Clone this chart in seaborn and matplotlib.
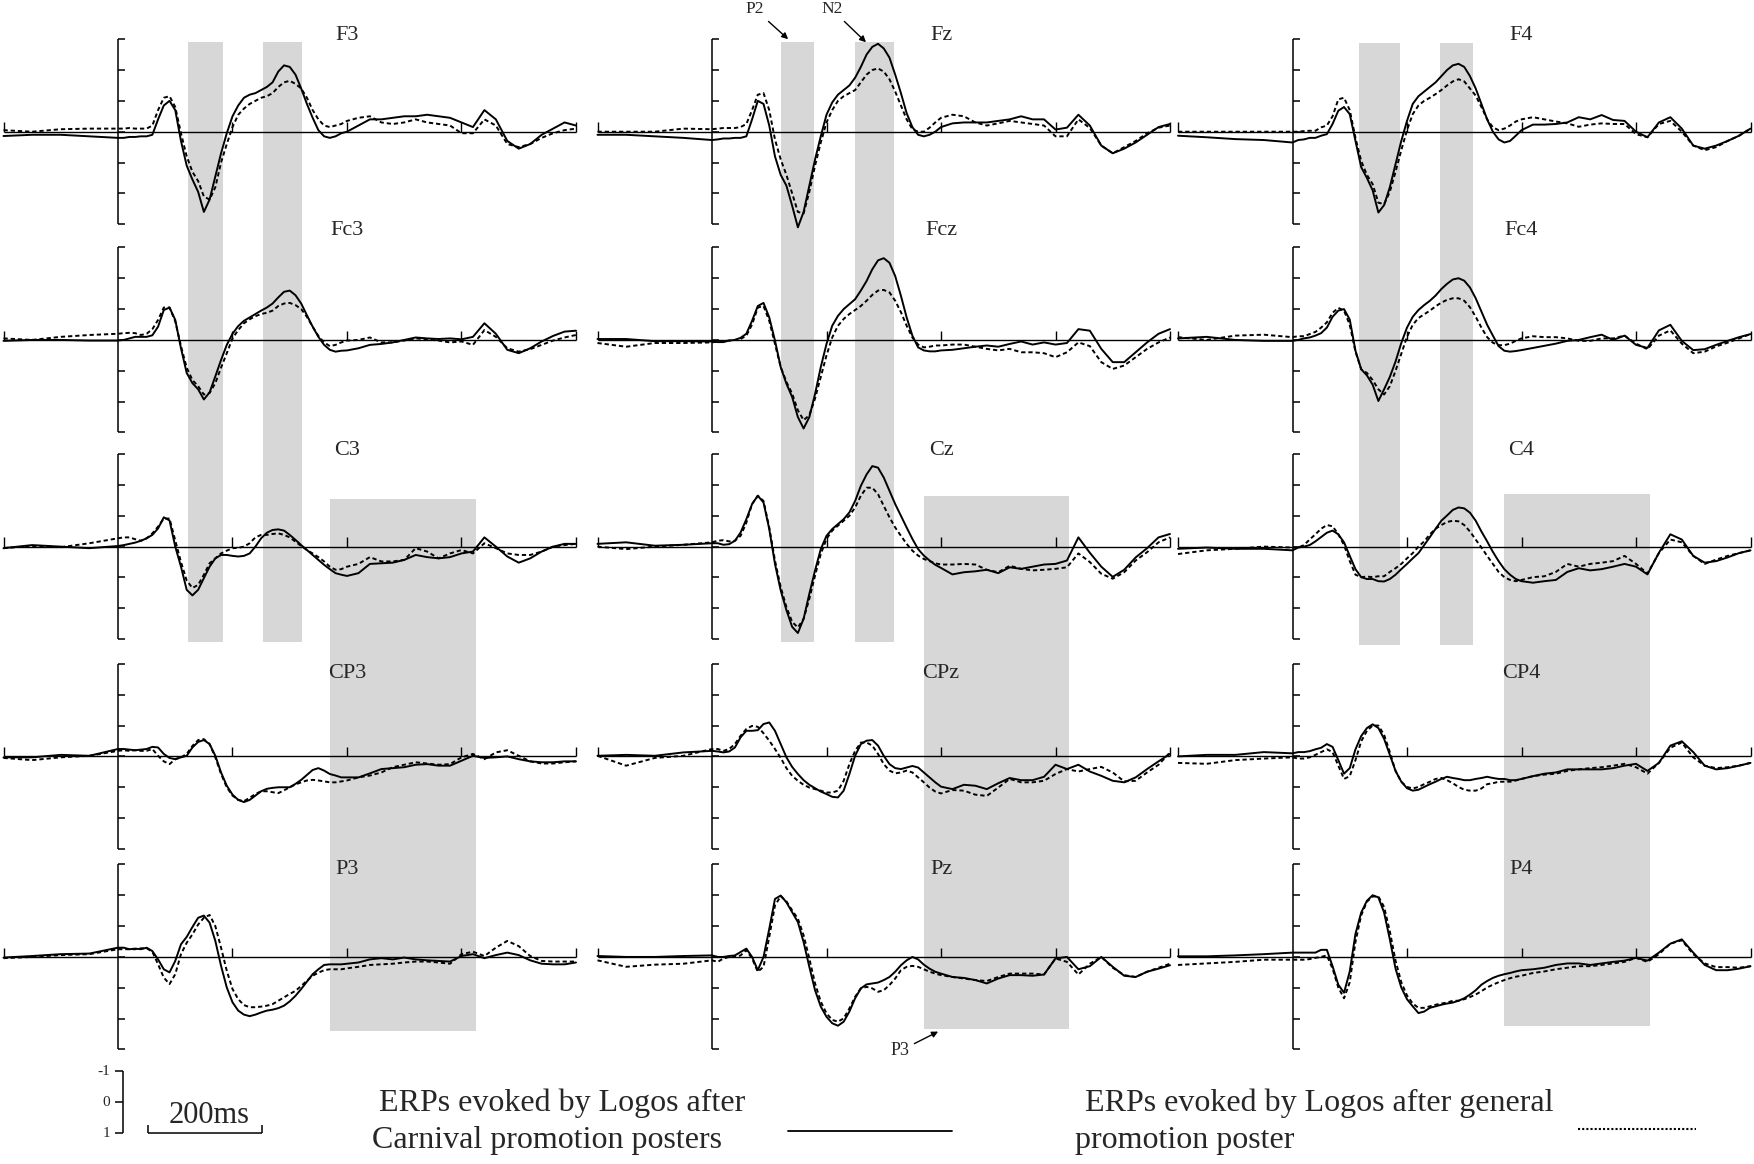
"""
ERP waveforms for 15 electrodes: Logos after Carnival posters (solid)
vs. after general promotion posters (dashed). Negative is plotted up.
"""
import matplotlib
matplotlib.use("Agg")
import matplotlib.pyplot as plt
import numpy as np
import seaborn as sns

# --- sample times (ms) -------------------------------------------------------
TIME_MS = [-200, -150, -100, -50,
           0, 10, 20, 30, 40, 50, 60, 70, 80, 90,
           100, 110, 120, 130, 140, 150, 160, 170, 180, 190,
           200, 210, 220, 230, 240, 250, 260, 270, 280, 290,
           300, 310, 320, 330, 340, 350, 360, 370, 380, 390,
           400, 420, 440, 460, 480, 500, 520, 540, 560, 580,
           600, 620, 640, 660, 680, 700, 720, 740, 760, 780, 800]

# --- amplitudes (uV) ---------------------------------------------------------
F3_SOLID = [0.14, 0.1, 0.1, 0.15,
            0.2, 0.2, 0.17, 0.17, 0.15, 0.15, 0.1, -0.4, -0.85, -1.0,
            -0.7, 0.3, 1.1, 1.55, 1.95, 2.6, 2.2, 1.45, 0.7, 0.05,
            -0.5, -0.85, -1.1, -1.2, -1.25, -1.35, -1.45, -1.6, -1.95, -2.15,
            -2.1, -1.85, -1.4, -0.9, -0.45, -0.05, 0.15, 0.2, 0.15, 0.05,
            0.0, -0.2, -0.4, -0.4, -0.45, -0.5, -0.5, -0.55, -0.5, -0.45,
            -0.3, -0.15, -0.7, -0.4, 0.3, 0.55, 0.4, 0.1, -0.1, -0.3, -0.2]
F3_DASHED = [-0.05, 0.0, -0.08, -0.1,
             -0.1, -0.1, -0.12, -0.1, -0.1, -0.1, -0.2, -0.7, -1.1, -1.15,
             -0.8, 0.05, 0.8, 1.3, 1.6, 2.1, 2.2, 1.8, 1.0, 0.4,
             -0.15, -0.55, -0.75, -0.9, -1.0, -1.1, -1.15, -1.25, -1.45, -1.6,
             -1.65, -1.55, -1.4, -1.1, -0.7, -0.4, -0.2, -0.15, -0.2, -0.25,
             -0.35, -0.45, -0.5, -0.3, -0.25, -0.3, -0.4, -0.3, -0.25, -0.2,
             0.05, 0.05, -0.4, -0.2, 0.4, 0.5, 0.4, 0.2, 0.05, -0.05, -0.1]

FZ_SOLID = [0.1, 0.1, 0.15, 0.2,
            0.27, 0.25, 0.22, 0.22, 0.2, 0.2, 0.15, -0.4, -1.0, -0.9,
            -0.2, 0.8, 1.4, 1.75, 2.4, 3.1, 2.6, 1.75, 0.9, 0.15,
            -0.55, -0.95, -1.2, -1.35, -1.5, -1.75, -2.1, -2.5, -2.75, -2.85,
            -2.7, -2.4, -1.85, -1.25, -0.6, -0.15, 0.1, 0.15, 0.1, 0.0,
            -0.15, -0.27, -0.3, -0.3, -0.3, -0.35, -0.4, -0.5, -0.4, -0.4,
            -0.07, -0.13, -0.55, -0.2, 0.45, 0.7, 0.55, 0.35, 0.1, -0.15, -0.25]
FZ_DASHED = [0.0, 0.0, 0.0, -0.1,
             -0.08, -0.1, -0.12, -0.12, -0.12, -0.15, -0.25, -0.7, -1.2, -1.25,
             -0.7, 0.25, 0.9, 1.4, 2.0, 2.6, 2.65, 1.95, 1.1, 0.35,
             -0.3, -0.7, -1.0, -1.15, -1.25, -1.35, -1.6, -1.85, -2.0, -2.05,
             -1.95, -1.7, -1.3, -0.85, -0.4, -0.08, 0.0, 0.0, -0.13, -0.3,
             -0.45, -0.55, -0.5, -0.3, -0.2, -0.27, -0.35, -0.3, -0.25, -0.2,
             0.15, 0.15, -0.4, -0.12, 0.45, 0.7, 0.5, 0.3, 0.05, -0.13, -0.2]

F4_SOLID = [0.13, 0.18, 0.24, 0.27,
            0.35, 0.27, 0.25, 0.2, 0.2, 0.13, 0.08, -0.25, -0.68, -0.8,
            -0.57, 0.3, 1.15, 1.5, 1.9, 2.62, 2.38, 1.8, 1.05, 0.3,
            -0.35, -0.9, -1.15, -1.3, -1.45, -1.6, -1.8, -2.0, -2.15, -2.2,
            -2.1, -1.8, -1.4, -0.9, -0.4, 0.0, 0.25, 0.35, 0.3, 0.13,
            -0.05, -0.23, -0.23, -0.25, -0.3, -0.47, -0.4, -0.54, -0.38, -0.35,
            0.0, 0.18, -0.3, -0.47, -0.1, 0.45, 0.55, 0.45, 0.3, 0.13, -0.1]
F4_DASHED = [0.0, 0.0, 0.0, 0.0,
             0.0, 0.0, -0.02, -0.03, -0.03, -0.14, -0.2, -0.5, -1.05, -1.1,
             -0.7, 0.2, 0.95, 1.4, 1.7, 2.3, 2.35, 1.95, 1.3, 0.6,
             -0.05, -0.57, -0.85, -1.0, -1.1, -1.22, -1.35, -1.5, -1.63, -1.7,
             -1.63, -1.4, -1.17, -0.8, -0.4, -0.14, -0.05, -0.1, -0.2, -0.33,
             -0.4, -0.47, -0.4, -0.33, -0.27, -0.16, -0.23, -0.27, -0.25, -0.25,
             0.08, 0.18, -0.25, -0.35, 0.0, 0.45, 0.6, 0.5, 0.3, 0.13, -0.1]

FC3_SOLID = [0.03, 0.0, 0.0, 0.02,
             0.02, 0.0, -0.05, -0.1, -0.1, -0.1, -0.15, -0.43, -0.97, -1.05,
             -0.65, 0.27, 1.07, 1.4, 1.6, 1.93, 1.7, 1.18, 0.65, 0.16,
             -0.2, -0.45, -0.62, -0.73, -0.84, -0.95, -1.05, -1.18, -1.38, -1.56,
             -1.6, -1.45, -1.18, -0.8, -0.43, -0.1, 0.16, 0.32, 0.38, 0.35,
             0.34, 0.27, 0.16, 0.13, 0.08, 0.0, -0.08, -0.05, -0.03, -0.05,
             -0.02, -0.1, -0.54, -0.2, 0.32, 0.43, 0.27, 0.05, -0.13, -0.27, -0.3]
FC3_DASHED = [-0.05, 0.0, -0.1, -0.16,
              -0.2, -0.22, -0.23, -0.22, -0.16, -0.2, -0.35, -0.65, -1.05, -1.05,
              -0.6, 0.2, 0.9, 1.3, 1.5, 1.77, 1.72, 1.4, 0.9, 0.43,
              -0.05, -0.32, -0.54, -0.67, -0.77, -0.84, -0.88, -0.95, -1.1, -1.18,
              -1.2, -1.13, -1.0, -0.75, -0.43, -0.13, 0.08, 0.2, 0.16, 0.08,
              0.02, 0.0, -0.08, 0.08, 0.08, 0.02, -0.05, -0.02, 0.02, 0.08,
              0.05, 0.16, -0.32, -0.1, 0.27, 0.38, 0.3, 0.16, 0.02, -0.08, -0.16]

FCZ_SOLID = [-0.03, -0.03, 0.04, 0.04,
             0.05, 0.07, 0.07, 0.02, 0.0, -0.07, -0.2, -0.62, -1.1, -1.2,
             -0.73, 0.02, 0.88, 1.42, 1.85, 2.5, 2.87, 2.5, 1.75, 0.88,
             0.13, -0.46, -0.78, -1.0, -1.16, -1.32, -1.6, -1.91, -2.29, -2.58,
             -2.65, -2.5, -2.07, -1.43, -0.73, -0.14, 0.24, 0.34, 0.37, 0.37,
             0.34, 0.32, 0.27, 0.22, 0.18, 0.22, 0.13, 0.05, 0.15, 0.08,
             0.15, 0.1, -0.35, -0.3, 0.29, 0.72, 0.72, 0.4, 0.08, -0.2, -0.35]
FCZ_DASHED = [0.1, 0.22, 0.1, 0.1,
              0.08, 0.05, 0.04, 0.02, 0.0, -0.03, -0.14, -0.5, -1.05, -1.1,
              -0.62, 0.13, 0.88, 1.36, 1.74, 2.28, 2.6, 2.44, 1.9, 1.2,
              0.5, -0.08, -0.46, -0.68, -0.84, -0.97, -1.1, -1.27, -1.46, -1.6,
              -1.62, -1.54, -1.27, -0.9, -0.46, -0.08, 0.15, 0.24, 0.22, 0.18,
              0.18, 0.15, 0.15, 0.22, 0.29, 0.34, 0.29, 0.4, 0.4, 0.43,
              0.56, 0.4, 0.08, 0.2, 0.72, 0.94, 0.83, 0.56, 0.29, 0.08, -0.08]

FC4_SOLID = [-0.05, -0.1, 0.0, 0.03,
             0.03, 0.0, -0.05, -0.08, -0.14, -0.22, -0.4, -0.75, -0.95, -1.0,
             -0.66, 0.35, 0.95, 1.15, 1.45, 1.98, 1.6, 1.2, 0.7, 0.1,
             -0.4, -0.75, -0.97, -1.13, -1.27, -1.44, -1.65, -1.82, -1.96, -2.0,
             -1.92, -1.7, -1.35, -0.92, -0.49, -0.14, 0.2, 0.35, 0.38, 0.36,
             0.33, 0.26, 0.19, 0.12, 0.03, 0.0, -0.09, -0.17, 0.0, -0.14,
             0.16, 0.26, -0.31, -0.49, 0.03, 0.33, 0.3, 0.16, 0.03, -0.09, -0.19]
FC4_DASHED = [-0.09, 0.0, -0.14, -0.17,
              -0.09, -0.12, -0.12, -0.19, -0.26, -0.4, -0.57, -0.88, -1.04, -0.95,
              -0.49, 0.38, 0.95, 1.07, 1.3, 1.6, 1.77, 1.5, 1.0, 0.45,
              -0.1, -0.49, -0.71, -0.83, -0.95, -1.09, -1.21, -1.3, -1.35, -1.35,
              -1.27, -1.06, -0.75, -0.4, -0.09, 0.09, 0.17, 0.17, 0.12, 0.03,
              -0.05, -0.12, -0.09, -0.09, -0.05, 0.03, 0.03, -0.05, -0.05, -0.14,
              0.12, 0.3, -0.14, -0.31, 0.12, 0.43, 0.38, 0.21, 0.09, -0.05, -0.19]

C3_SOLID = [0.05, -0.05, 0.0, 0.05,
            -0.02, -0.05, -0.09, -0.13, -0.19, -0.27, -0.38, -0.59, -0.95, -0.85,
            0.0, 0.65, 1.4, 1.58, 1.4, 1.02, 0.65, 0.38, 0.27, 0.27,
            0.3, 0.32, 0.3, 0.22, 0.0, -0.27, -0.45, -0.54, -0.56, -0.52,
            -0.38, -0.22, -0.05, 0.11, 0.27, 0.43, 0.59, 0.73, 0.86, 0.91,
            0.95, 0.86, 0.56, 0.54, 0.52, 0.43, 0.27, 0.34, 0.38, 0.34,
            0.22, 0.16, -0.3, 0.0, 0.32, 0.52, 0.38, 0.16, 0.0, -0.09, -0.09]
C3_DASHED = [0.05, -0.02, 0.02, -0.11,
             -0.27, -0.3, -0.3, -0.24, -0.19, -0.27, -0.43, -0.65, -0.91, -0.91,
             -0.2, 0.5, 1.1, 1.34, 1.24, 0.91, 0.54, 0.38, 0.22, 0.13,
             0.05, 0.04, 0.0, -0.11, -0.3, -0.38, -0.38, -0.41, -0.43, -0.38,
             -0.3, -0.16, -0.02, 0.11, 0.22, 0.34, 0.48, 0.65, 0.75, 0.73,
             0.65, 0.56, 0.34, 0.48, 0.48, 0.43, 0.05, 0.16, 0.38, 0.22,
             0.11, 0.22, -0.11, 0.05, 0.22, 0.27, 0.27, 0.16, 0.0, -0.05, -0.09]

CZ_SOLID = [-0.09, -0.14, -0.03, -0.06,
            -0.11, -0.11, -0.06, -0.08, -0.19, -0.46, -0.89, -1.38, -1.65, -1.43,
            -0.57, 0.56, 1.42, 2.06, 2.6, 2.8, 2.34, 1.53, 0.77, 0.08,
            -0.35, -0.57, -0.73, -0.89, -1.11, -1.48, -1.97, -2.34, -2.61, -2.56,
            -2.24, -1.81, -1.38, -1.0, -0.62, -0.25, 0.08, 0.29, 0.45, 0.59,
            0.69, 0.9, 0.83, 0.8, 0.75, 0.86, 0.67, 0.72, 0.65, 0.58,
            0.56, 0.45, -0.3, 0.2, 0.65, 0.98, 0.75, 0.35, 0.05, -0.3, -0.41]
CZ_DASHED = [0.0, 0.08, 0.0, -0.06,
             -0.14, -0.19, -0.21, -0.17, -0.19, -0.35, -0.78, -1.38, -1.65, -1.48,
             -0.62, 0.45, 1.31, 1.96, 2.44, 2.62, 2.34, 1.69, 0.94, 0.24,
             -0.25, -0.52, -0.68, -0.84, -1.0, -1.27, -1.65, -1.91, -1.91, -1.7,
             -1.32, -0.95, -0.62, -0.35, -0.09, 0.13, 0.29, 0.4, 0.47, 0.54,
             0.58, 0.58, 0.56, 0.58, 0.75, 0.83, 0.62, 0.72, 0.77, 0.75,
             0.72, 0.67, 0.22, 0.5, 0.88, 1.04, 0.83, 0.45, 0.18, -0.14, -0.3]

C4_SOLID = [0.07, 0.03, 0.07, 0.07,
            0.12, 0.03, 0.0, -0.05, -0.17, -0.31, -0.45, -0.52, -0.4, -0.14,
            0.3, 0.73, 0.99, 1.05, 1.05, 1.12, 1.13, 1.05, 0.91, 0.73,
            0.56, 0.38, 0.21, -0.05, -0.31, -0.58, -0.84, -1.01, -1.19, -1.27,
            -1.24, -1.1, -0.84, -0.49, -0.17, 0.17, 0.47, 0.73, 0.91, 1.05,
            1.12, 1.17, 1.12, 1.08, 0.82, 0.7, 0.77, 0.73, 0.65, 0.56,
            0.65, 0.9, 0.2, -0.4, -0.23, 0.3, 0.52, 0.47, 0.35, 0.21, 0.12]
C4_DASHED = [0.24, 0.12, 0.07, 0.0,
             0.03, 0.03, -0.05, -0.23, -0.4, -0.58, -0.7, -0.66, -0.4, -0.05,
             0.47, 0.91, 0.99, 0.97, 0.99, 0.96, 0.96, 0.82, 0.7, 0.56,
             0.38, 0.21, 0.0, -0.17, -0.4, -0.58, -0.7, -0.8, -0.84, -0.82,
             -0.7, -0.49, -0.23, 0.03, 0.3, 0.56, 0.82, 0.99, 1.08, 1.12,
             1.08, 0.99, 0.96, 0.82, 0.56, 0.65, 0.56, 0.52, 0.47, 0.3,
             0.56, 0.87, 0.21, -0.23, -0.14, 0.3, 0.56, 0.42, 0.3, 0.21, 0.12]

CP3_SOLID = [0.03, 0.03, -0.05, -0.02,
             -0.24, -0.24, -0.22, -0.2, -0.22, -0.24, -0.31, -0.29, -0.08, 0.05,
             0.09, 0.03, -0.02, -0.29, -0.47, -0.53, -0.4, -0.02, 0.52, 0.95,
             1.24, 1.41, 1.48, 1.41, 1.27, 1.13, 1.05, 1.02, 1.0, 1.0,
             1.0, 0.89, 0.76, 0.6, 0.44, 0.38, 0.46, 0.57, 0.62, 0.68,
             0.68, 0.68, 0.55, 0.41, 0.38, 0.35, 0.27, 0.25, 0.3, 0.3,
             0.14, -0.02, 0.05, 0.03, 0.0, 0.09, 0.16, 0.19, 0.19, 0.16, 0.16]
CP3_DASHED = [0.05, 0.12, 0.03, -0.02,
              -0.18, -0.2, -0.18, -0.2, -0.18, -0.18, -0.24, -0.02, 0.16, 0.25,
              0.09, 0.03, -0.08, -0.34, -0.53, -0.56, -0.4, 0.03, 0.57, 1.0,
              1.27, 1.41, 1.45, 1.34, 1.22, 1.13, 1.13, 1.16, 1.19, 1.1,
              1.0, 0.91, 0.84, 0.78, 0.76, 0.78, 0.81, 0.84, 0.84, 0.81,
              0.78, 0.68, 0.62, 0.52, 0.35, 0.27, 0.19, 0.23, 0.27, 0.25,
              0.03, -0.08, 0.09, -0.13, -0.2, -0.02, 0.16, 0.23, 0.23, 0.19, 0.16]

CPZ_SOLID = [-0.02, -0.05, -0.02, -0.13,
             -0.18, -0.16, -0.13, -0.16, -0.29, -0.62, -0.83, -0.83, -0.85, -1.05,
             -1.1, -0.83, -0.4, 0.03, 0.34, 0.57, 0.77, 0.92, 1.03, 1.14,
             1.22, 1.31, 1.33, 1.11, 0.57, -0.02, -0.4, -0.51, -0.53, -0.35,
             -0.02, 0.25, 0.38, 0.41, 0.36, 0.31, 0.36, 0.52, 0.68, 0.84,
             0.98, 1.06, 0.92, 0.95, 1.06, 0.87, 0.7, 0.77, 0.77, 0.66,
             0.27, 0.41, 0.27, 0.49, 0.63, 0.79, 0.84, 0.68, 0.41, 0.16, -0.08]
CPZ_DASHED = [-0.02, 0.3, 0.05, -0.02,
              -0.24, -0.24, -0.18, -0.24, -0.4, -0.67, -0.89, -0.99, -0.96, -0.75,
              -0.51, -0.24, 0.05, 0.38, 0.63, 0.79, 0.92, 1.01, 1.06, 1.11,
              1.17, 1.17, 1.11, 0.79, 0.25, -0.18, -0.45, -0.45, -0.35, -0.08,
              0.25, 0.46, 0.55, 0.52, 0.46, 0.52, 0.68, 0.84, 1.01, 1.14,
              1.2, 1.09, 1.11, 1.24, 1.28, 1.01, 0.73, 0.84, 0.84, 0.79,
              0.57, 0.41, 0.49, 0.41, 0.34, 0.52, 0.81, 0.79, 0.52, 0.27, -0.13]

CP4_SOLID = [0.0, -0.05, -0.05, -0.14,
             -0.1, -0.14, -0.14, -0.17, -0.23, -0.28, -0.4, -0.31, 0.12, 0.56,
             0.38, -0.23, -0.66, -0.92, -1.04, -0.92, -0.57, -0.05, 0.47, 0.82,
             1.03, 1.11, 1.08, 0.99, 0.9, 0.82, 0.73, 0.66, 0.7, 0.73,
             0.77, 0.77, 0.73, 0.7, 0.66, 0.7, 0.73, 0.73, 0.77, 0.77,
             0.73, 0.64, 0.56, 0.52, 0.42, 0.42, 0.42, 0.42, 0.38, 0.3,
             0.24, 0.47, 0.21, -0.35, -0.49, -0.14, 0.3, 0.42, 0.38, 0.3, 0.21]
CP4_DASHED = [0.21, 0.24, 0.12, 0.07,
              0.03, 0.07, 0.07, 0.03, -0.05, -0.14, -0.23, -0.14, 0.3, 0.73,
              0.64, 0.12, -0.49, -0.83, -1.0, -1.0, -0.7, -0.14, 0.47, 0.82,
              0.99, 1.04, 0.99, 0.9, 0.82, 0.73, 0.7, 0.77, 0.87, 0.99,
              1.08, 1.11, 1.11, 1.04, 0.9, 0.87, 0.82, 0.82, 0.82, 0.78,
              0.73, 0.64, 0.59, 0.56, 0.47, 0.42, 0.38, 0.35, 0.3, 0.24,
              0.35, 0.56, 0.21, -0.28, -0.45, 0.03, 0.3, 0.38, 0.35, 0.3, 0.21]

P3_SOLID = [0.02, -0.03, -0.09, -0.11,
            -0.3, -0.3, -0.25, -0.27, -0.25, -0.3, -0.19, 0.08, 0.4, 0.5,
            0.13, -0.41, -0.65, -0.97, -1.27, -1.34, -1.11, -0.52, 0.29, 0.99,
            1.47, 1.74, 1.87, 1.92, 1.87, 1.8, 1.74, 1.71, 1.66, 1.58,
            1.44, 1.26, 1.04, 0.8, 0.56, 0.4, 0.26, 0.24, 0.24, 0.24,
            0.22, 0.18, 0.08, 0.04, 0.08, 0.02, 0.08, 0.11, 0.13, 0.15,
            -0.03, -0.09, 0.04, -0.06, -0.14, -0.06, 0.11, 0.22, 0.24, 0.24, 0.18]
P3_DASHED = [0.04, 0.0, -0.06, -0.09,
             -0.25, -0.25, -0.25, -0.25, -0.28, -0.28, -0.17, 0.24, 0.67, 0.88,
             0.56, -0.09, -0.46, -0.73, -1.05, -1.27, -1.36, -1.0, -0.3, 0.45,
             1.04, 1.37, 1.56, 1.63, 1.63, 1.61, 1.58, 1.53, 1.42, 1.31,
             1.2, 1.1, 0.94, 0.77, 0.61, 0.51, 0.43, 0.4, 0.4, 0.4,
             0.37, 0.32, 0.26, 0.24, 0.22, 0.18, 0.15, 0.15, 0.18, 0.22,
             -0.09, -0.17, -0.03, -0.3, -0.52, -0.35, -0.03, 0.13, 0.15, 0.15, 0.15]

PZ_SOLID = [-0.03, 0.0, 0.0, -0.03,
            -0.05, 0.0, 0.0, -0.03, -0.05, -0.16, -0.27, 0.0, 0.43, 0.0,
            -0.91, -1.88, -1.99, -1.77, -1.45, -1.13, -0.48, 0.32, 1.08, 1.61,
            1.94, 2.15, 2.23, 2.1, 1.77, 1.34, 1.02, 0.89, 0.86, 0.83,
            0.75, 0.65, 0.48, 0.27, 0.11, 0.0, 0.08, 0.25, 0.38, 0.48,
            0.54, 0.65, 0.68, 0.75, 0.86, 0.7, 0.59, 0.59, 0.61, 0.57,
            0.05, 0.0, 0.4, 0.3, 0.0, 0.32, 0.61, 0.65, 0.48, 0.38, 0.27]
PZ_DASHED = [0.11, 0.32, 0.25, 0.22,
             0.11, 0.16, 0.05, 0.0, 0.0, -0.05, -0.22, 0.05, 0.48, 0.32,
             -0.65, -1.67, -1.97, -1.8, -1.51, -1.24, -0.7, 0.05, 0.86, 1.45,
             1.83, 2.04, 2.1, 1.99, 1.67, 1.29, 1.02, 0.97, 1.02, 1.13,
             1.08, 0.91, 0.7, 0.43, 0.32, 0.29, 0.32, 0.4, 0.48, 0.54,
             0.59, 0.65, 0.7, 0.75, 0.78, 0.65, 0.54, 0.54, 0.54, 0.57,
             0.05, 0.16, 0.57, 0.22, 0.0, 0.35, 0.59, 0.65, 0.48, 0.35, 0.22]

P4_SOLID = [-0.02, -0.02, -0.05, -0.09,
            -0.14, -0.14, -0.14, -0.14, -0.14, -0.23, -0.23, 0.3, 0.9, 1.16,
            0.47, -0.75, -1.44, -1.82, -2.0, -1.93, -1.44, -0.57, 0.38, 0.99,
            1.37, 1.6, 1.82, 1.77, 1.65, 1.6, 1.55, 1.51, 1.48, 1.42,
            1.34, 1.22, 1.08, 0.9, 0.78, 0.68, 0.61, 0.56, 0.52, 0.47,
            0.43, 0.4, 0.35, 0.26, 0.21, 0.21, 0.26, 0.21, 0.16, 0.12,
            0.03, 0.12, -0.14, -0.43, -0.57, -0.14, 0.26, 0.43, 0.43, 0.38, 0.3]
P4_DASHED = [0.26, 0.21, 0.16, 0.09,
             0.09, 0.09, 0.09, 0.07, 0.03, 0.0, -0.05, 0.38, 0.99, 1.34,
             0.82, -0.49, -1.35, -1.79, -1.96, -1.96, -1.62, -0.83, 0.12, 0.82,
             1.25, 1.51, 1.65, 1.65, 1.6, 1.55, 1.51, 1.48, 1.42, 1.42,
             1.37, 1.3, 1.22, 1.11, 0.99, 0.9, 0.82, 0.75, 0.69, 0.64,
             0.61, 0.52, 0.47, 0.4, 0.35, 0.3, 0.3, 0.26, 0.21, 0.16,
             0.03, 0.16, -0.09, -0.43, -0.54, -0.09, 0.21, 0.33, 0.33, 0.35, 0.3]

ELECTRODES = [["F3", "Fc3", "C3", "CP3", "P3"],
              ["Fz", "Fcz", "Cz", "CPz", "Pz"],
              ["F4", "Fc4", "C4", "CP4", "P4"]]
SOLID = [[F3_SOLID, FC3_SOLID, C3_SOLID, CP3_SOLID, P3_SOLID],
         [FZ_SOLID, FCZ_SOLID, CZ_SOLID, CPZ_SOLID, PZ_SOLID],
         [F4_SOLID, FC4_SOLID, C4_SOLID, CP4_SOLID, P4_SOLID]]
DASHED = [[F3_DASHED, FC3_DASHED, C3_DASHED, CP3_DASHED, P3_DASHED],
          [FZ_DASHED, FCZ_DASHED, CZ_DASHED, CPZ_DASHED, PZ_DASHED],
          [F4_DASHED, FC4_DASHED, C4_DASHED, CP4_DASHED, P4_DASHED]]

# shaded analysis windows: (t0, t1, top row, top uV, bottom row, bottom uV)
WINDOWS = [[(123, 183, 0, -2.9, 2, 3.1), (253, 322, 0, -2.9, 2, 3.1), (371, 625, 2, -1.56, 4, 2.39)],
           [(120, 179, 0, -2.9, 2, 3.1), (249, 318, 0, -2.9, 2, 3.1), (370, 624, 2, -1.63, 4, 2.33)],
           [(117, 187, 0, -2.87, 2, 3.18), (257, 316, 0, -2.87, 2, 3.18), (370, 625, 2, -1.71, 4, 2.24)]]

# --- layout ------------------------------------------------------------------
FIG_W_PX, FIG_H_PX = 1754, 1164
PX_PER_MS = 0.5725
PX_PER_UV = 30.85
COL_ZERO_PX = [118, 712, 1292.5]
ROW1_ZERO_PX = 131.7
ROW_OFFSETS = [0, 6.75, 13.45, 20.25, 26.75]
LABEL_DY = [-3.13, -3.55, -3.12, -2.7, -2.84]
SCALE_OFFSET = 31.46
X_MIN, X_MAX = -205, 805
BAND_COLOR = "#d7d7d7"
LW = 1.4

sns.set_style("white")
plt.rcParams["font.family"] = ["Liberation Serif", "DejaVu Serif"]

fig = plt.figure(figsize=(FIG_W_PX / 100, FIG_H_PX / 100), dpi=100)

y_top = -ROW1_ZERO_PX / PX_PER_UV
y_bottom = (FIG_H_PX - ROW1_ZERO_PX) / PX_PER_UV
axes = []
for col in range(3):
    left_px = COL_ZERO_PX[col] + X_MIN * PX_PER_MS
    width_px = (X_MAX - X_MIN) * PX_PER_MS
    ax = fig.add_axes([left_px / FIG_W_PX, 0, width_px / FIG_W_PX, 1])
    ax.set_xlim(X_MIN, X_MAX)
    ax.set_ylim(y_bottom, y_top)  # negative up
    ax.axis("off")
    axes.append(ax)

    for t0, t1, r0, v0, r1, v1 in WINDOWS[col]:
        ax.fill_between([t0, t1], ROW_OFFSETS[r0] + v0, ROW_OFFSETS[r1] + v1,
                        color=BAND_COLOR, lw=0, zorder=0)

    for row in range(5):
        off = ROW_OFFSETS[row]
        solid = np.array(SOLID[col][row])
        dashed = np.array(DASHED[col][row])
        assert len(solid) == len(TIME_MS) and len(dashed) == len(TIME_MS)

        # baseline, amplitude bracket and time ticks
        ax.hlines(off, -200, 800, color="black", lw=1.0, zorder=2)
        ax.vlines(0, off - 3, off + 3, color="black", lw=1.1, zorder=2)
        ax.hlines(off + np.arange(-3, 4), 0, 13, color="black", lw=1.1, zorder=2)
        ax.vlines([-200, 200, 400, 600, 800], off - 0.3, off, color="black", lw=1.0, zorder=2)

        sns.lineplot(x=TIME_MS, y=solid + off, ax=ax, color="black", lw=LW, zorder=4)
        sns.lineplot(x=TIME_MS, y=dashed + off, ax=ax, color="black", lw=LW,
                     linestyle=(0, (2.2, 1.5)), zorder=3)

        ax.text(400, off + LABEL_DY[row], ELECTRODES[col][row], ha="center",
                va="center", fontsize=16)

# component labels
arrow = dict(arrowstyle="-|>", color="black", lw=1.0, mutation_scale=9,
             shrinkA=1, shrinkB=0)
axes[1].annotate("P2", xy=(133, -3.0), xytext=(75, -3.97), ha="center",
                 va="center", fontsize=12.5, arrowprops=arrow)
axes[1].annotate("N2", xy=(269, -2.9), xytext=(209, -3.97), ha="center",
                 va="center", fontsize=12.5, arrowprops=arrow)
axes[1].annotate("P3", xy=(395, ROW_OFFSETS[4] + 2.42), xytext=(329, ROW_OFFSETS[4] + 3.04),
                 ha="center", va="center", fontsize=13, arrowprops=arrow)

# scale bar: 1 uV steps and 200 ms
ax = axes[0]
ax.vlines(9.5, SCALE_OFFSET - 1, SCALE_OFFSET + 1, color="black", lw=1.1)
ax.hlines(SCALE_OFFSET + np.array([-1, 0, 1]), -6, 9.5, color="black", lw=1.1)
for v, lab in zip([-1, 0, 1], ["-1", "0", "1"]):
    ax.text(-14, SCALE_OFFSET + v, lab, ha="right", va="center", fontsize=11)
ax.hlines(SCALE_OFFSET + 1, 52, 252, color="black", lw=1.1)
ax.vlines([52, 252], SCALE_OFFSET + 0.75, SCALE_OFFSET + 1, color="black", lw=1.1)
ax.text(160, SCALE_OFFSET + 0.42, "200ms", ha="center", va="center", fontsize=22)

# legend
fig.text(0.2161, 0.0524, "ERPs evoked by Logos after", ha="left", va="center", fontsize=23)
fig.text(0.2121, 0.0206, "Carnival promotion posters", ha="left", va="center", fontsize=23)
fig.add_artist(plt.Line2D([0.4493, 0.5428], [0.0284, 0.0284], transform=fig.transFigure,
                          color="black", lw=1.3))
fig.text(0.6186, 0.0524, "ERPs evoked by Logos after general", ha="left", va="center", fontsize=23)
fig.text(0.6129, 0.0206, "promotion poster", ha="left", va="center", fontsize=23)
fig.add_artist(plt.Line2D([0.8997, 0.9669], [0.0301, 0.0301], transform=fig.transFigure,
                          color="black", lw=1.5, linestyle=(0, (1, 1))))

fig.savefig("out.png", dpi=100, facecolor="white")
